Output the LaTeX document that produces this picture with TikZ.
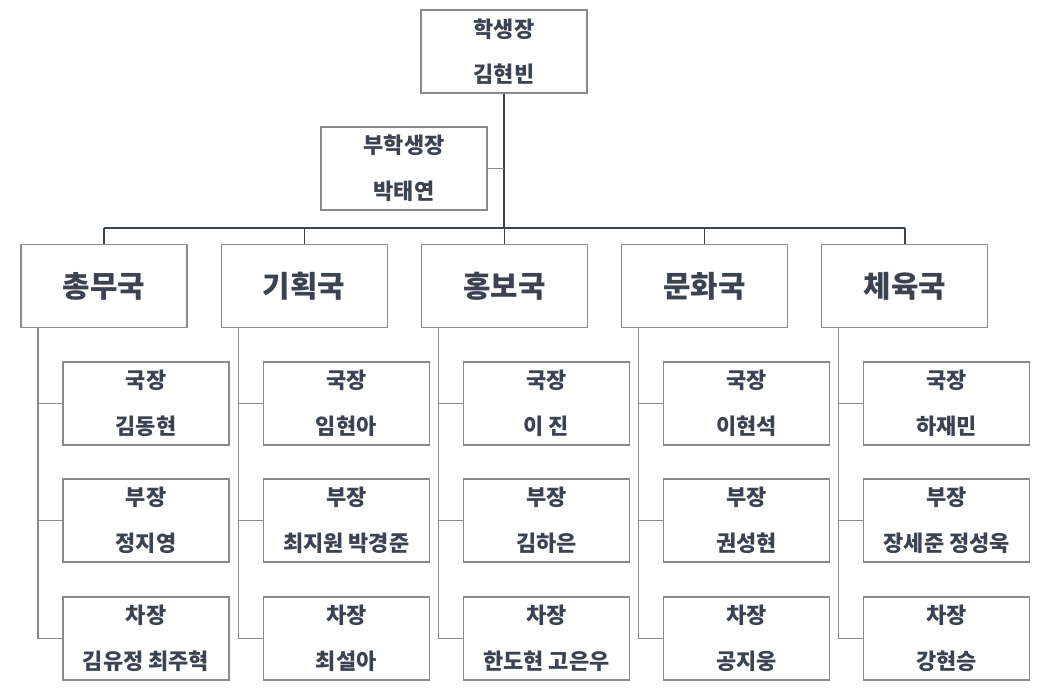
\documentclass[tikz,border=0pt]{standalone}
\usepackage{fontspec}
\setmainfont{Noto Sans CJK KR}
\usetikzlibrary{positioning}
\definecolor{txtcol}{HTML}{3B4252}
\definecolor{boxcol}{HTML}{8A8A8A}

\begin{document}
\begin{tikzpicture}[
    x=0.02cm, y=-0.02cm,
    every node/.style={font=\bfseries, text=txtcol},
    box/.style={draw=boxcol, line width=0.6pt, minimum width=3.32cm, minimum height=1.66cm,
        align=center, inner sep=0pt, font=\bfseries\fontsize{12.5}{26}\selectfont},
    deptbox/.style={box, font=\bfseries\fontsize{17}{20}\selectfont},
    link/.style={draw=boxcol, line width=0.6pt},
    trunk/.style={draw=txtcol, line width=1.2pt}
]
\useasboundingbox (0,0) rectangle (1050,697);

% =============================
% top: president and vice president
% =============================
\node[box] (pres) at (504,51.5) {학생장\\김현빈};
\node[box] (vice) at (404,168.5) {부학생장\\박태연};
\coordinate (bus) at (504,228);
\draw[trunk] (pres.south) -- (bus);
\draw[link] (vice.east) -- (vice.east -| bus);

% =============================
% departments and members
% =============================
\foreach \i/\dept/\chief/\deputy/\vicechief in {
    0/총무국/김동현/정지영/김유정 최주혁,
    1/기획국/임현아/최지원 박경준/최설아,
    2/홍보국/이 진/김하은/한도현 고은우,
    3/문화국/이현석/권성현/공지웅,
    4/체육국/하재민/장세준 정성욱/강현승}{
  \pgfmathsetmacro{\cx}{104+200.2*\i}
  \node[deptbox] (d\i) at (\cx,286) {\dept};
  \draw[link, draw=txtcol, line width=0.8pt] (d\i.north) -- (\cx,228);
  \node[box] (c\i) at (\cx+42,403.5) {국장\\\chief};
  \node[box] (v\i) at (\cx+42,520.5) {부장\\\deputy};
  \node[box] (s\i) at (\cx+42,638.5) {차장\\\vicechief};
  \coordinate (a\i) at (\cx-66,327);
  \draw[link] (a\i) |- (s\i.west);
  \draw[link] (c\i.west) -- (c\i.west -| a\i);
  \draw[link] (v\i.west) -- (v\i.west -| a\i);
}
\draw[txtcol, line width=0.8pt] (d0.north |- bus) -- (d4.north |- bus);
\end{tikzpicture}
\end{document}
